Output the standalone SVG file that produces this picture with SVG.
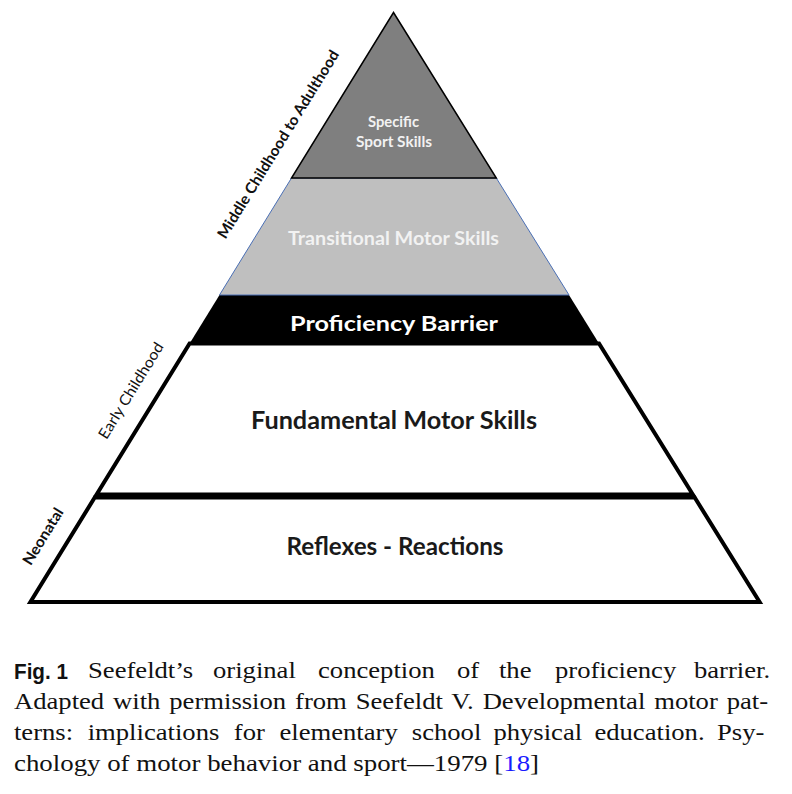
<svg xmlns="http://www.w3.org/2000/svg" width="792" height="794" viewBox="0 0 792 794">
<style>
.lbl{font-family:Lato,"Liberation Sans",sans-serif;font-weight:bold;text-anchor:middle}
.w{fill:#f2f2f2}
.k{fill:#1a1a1a}
.age{font-family:Lato,"Liberation Sans",sans-serif;font-size:15px;fill:#111;text-anchor:middle}
.cap{font-family:"Liberation Serif","Times New Roman",serif;font-size:24px;fill:#111}
.edge{stroke:#000;stroke-width:4;stroke-linejoin:miter;stroke-miterlimit:10}
</style>
<rect x="0" y="0" width="792" height="794" fill="#fff"/>
<g id="layer-reflexes">
<path class="edge" d="M94.7,497.5 L694.7,497.5 L759.6,602 L30.4,602 Z" fill="#fff"/>
<text class="lbl k" x="395" y="555" font-size="24" textLength="217" lengthAdjust="spacingAndGlyphs">Reflexes - Reactions</text>
</g>
<g id="layer-fundamental">
<path class="edge" d="M189.6,343.5 L599,343.5 L692.8,494.5 L96.6,494.5 Z" fill="#fff"/>
<text class="lbl k" x="394" y="429" font-size="24" textLength="286" lengthAdjust="spacingAndGlyphs">Fundamental Motor Skills</text>
</g>
<g id="layer-barrier">
<path d="M219.5,295 L569,295 L599,343.5 L189.6,343.5 Z" fill="#000"/>
<text class="lbl" x="394" y="331" font-size="20" fill="#fff" textLength="208" lengthAdjust="spacingAndGlyphs">Proficiency Barrier</text>
</g>
<g id="layer-transitional">
<path d="M291.5,178 L496.3,178 L569,295 L219.5,295 Z" fill="#bfbfbf" stroke="#4a6fb5" stroke-width="1"/>
<text class="lbl w" x="393.5" y="245" font-size="19" textLength="211" lengthAdjust="spacingAndGlyphs">Transitional Motor Skills</text>
</g>
<g id="layer-specific">
<path d="M393.5,12.5 L496.3,178 L291.5,178 Z" fill="#7f7f7f" stroke="#000" stroke-width="1.5" stroke-linejoin="miter"/>
<text class="lbl w" x="393.5" y="127" font-size="14.5" textLength="51" lengthAdjust="spacingAndGlyphs">Specific</text>
<text class="lbl w" x="394" y="147" font-size="14.5" textLength="76" lengthAdjust="spacingAndGlyphs">Sport Skills</text>
</g>
<g id="age-labels">
<text class="age" font-weight="bold" transform="translate(278,144.2) rotate(-58.4)" y="5.4" textLength="218" lengthAdjust="spacingAndGlyphs">Middle Childhood to Adulthood</text>
<text class="age" transform="translate(130.8,390.5) rotate(-58.4)" y="5.4" textLength="110" lengthAdjust="spacingAndGlyphs">Early Childhood</text>
<text class="age" font-weight="bold" transform="translate(42.8,536.3) rotate(-58.4)" y="5.4" textLength="64" lengthAdjust="spacingAndGlyphs">Neonatal</text>
</g>
<g id="connectors"></g>
<g id="caption">
<text x="14" y="678.5" font-family="'Liberation Sans',Arial,sans-serif" font-weight="bold" font-size="22.5" fill="#111" textLength="54" lengthAdjust="spacingAndGlyphs">Fig. 1</text>
<g transform="scale(1.11,1)">
<text class="cap" y="678.5"><tspan x="79.3">Seefeldt’s</tspan><tspan x="191.9">original</tspan><tspan x="286.5">conception</tspan><tspan x="411.7">of</tspan><tspan x="449.5">the</tspan><tspan x="500">proficiency</tspan><tspan x="625.2">barrier.</tspan></text>
<text class="cap" x="12.6" y="709.5" word-spacing="2">Adapted with permission from Seefeldt V. Developmental motor pat-</text>
<text class="cap" y="740.5"><tspan x="12.6">terns:</tspan><tspan x="79">implications</tspan><tspan x="210.7">for</tspan><tspan x="251.8">elementary</tspan><tspan x="371">school</tspan><tspan x="444.5">physical</tspan><tspan x="535.5">education.</tspan><tspan x="646">Psy-</tspan></text>
<text class="cap" x="12.6" y="771" textLength="473" lengthAdjust="spacingAndGlyphs">chology of motor behavior and sport—1979 [<tspan fill="#1a1aff">18</tspan>]</text>
</g>
</g>
</svg>
